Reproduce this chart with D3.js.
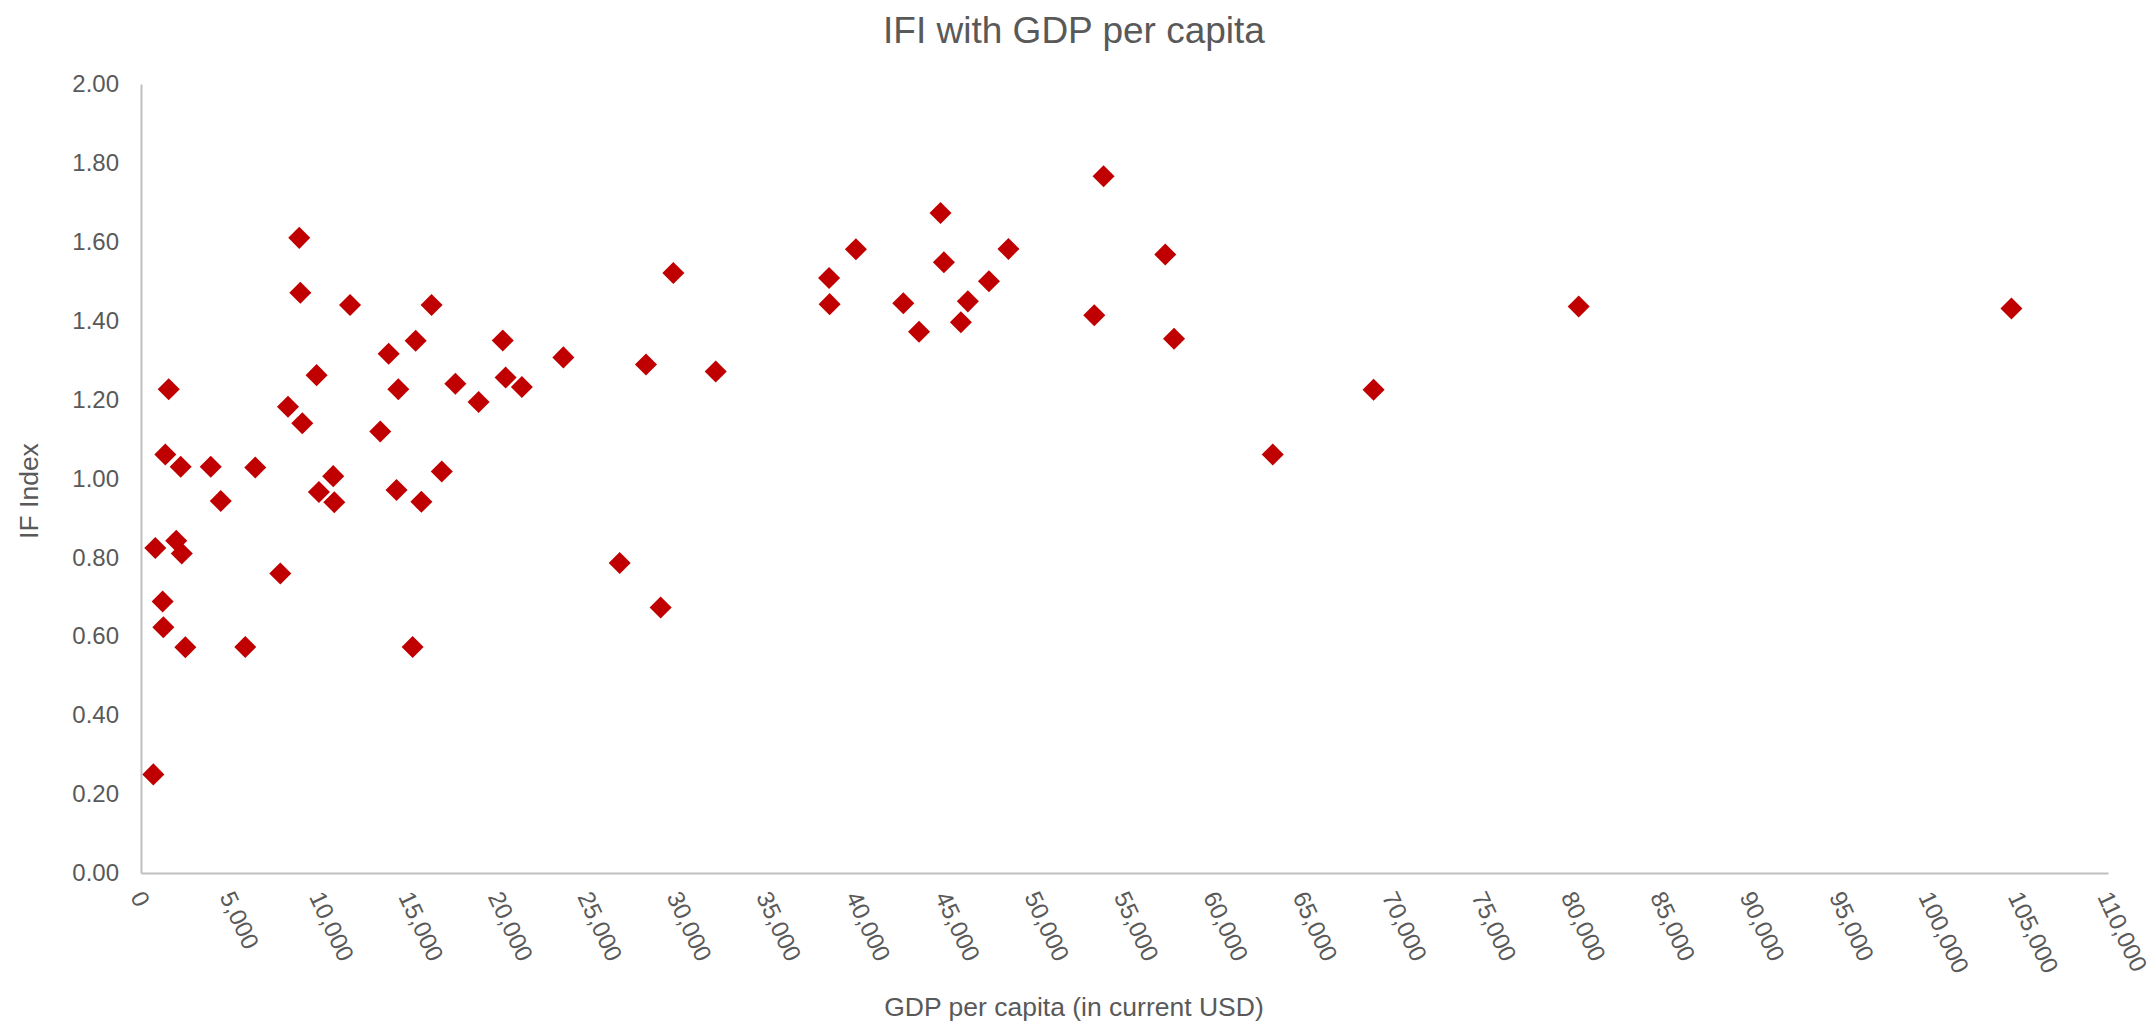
<!DOCTYPE html>
<html>
<head>
<meta charset="utf-8">
<script src="https://cdn.jsdelivr.net/npm/d3@7"></script>
<style>
  html, body { margin: 0; padding: 0; background: #ffffff; }
  svg { display: block; font-family: "Liberation Sans", Arial, sans-serif; }
</style>
</head>
<body>
<svg id="chart" width="2152" height="1021"></svg>
<script>
// ---- Data ----
const chartTitle = "IFI with GDP per capita";
const xAxisTitle = "GDP per capita (in current USD)";
const yAxisTitle = "IF Index";

const gdpPerCapita = [
  8850, 8910, 11690, 16250, 15360, 13850, 20230, 23620, 9820, 1550,
  14390, 17580, 20390, 21300, 18880, 8220, 9020, 13380, 1360, 2220,
  3900, 6390, 10750, 9950, 10810, 4460, 16820, 14290, 15680, 800,
  1970, 2280, 7790, 1210, 1250, 2480, 5830, 15190, 690,
  44710, 39980, 48510, 44900, 38480, 47420, 38510, 42630, 46240, 45850,
  43510, 29770, 28240, 32140, 26770, 29060,
  53830, 57280, 53310, 57770, 68930, 80400, 104600, 63290
];
const ifIndex = [
  1.610, 1.471, 1.440, 1.440, 1.349, 1.316, 1.350, 1.307, 1.262, 1.226,
  1.226, 1.240, 1.256, 1.232, 1.194, 1.182, 1.140, 1.119, 1.061, 1.030,
  1.030, 1.028, 1.006, 0.966, 0.940, 0.943, 1.018, 0.971, 0.941, 0.824,
  0.842, 0.810, 0.759, 0.688, 0.623, 0.572, 0.573, 0.573, 0.250,
  1.673, 1.581, 1.582, 1.548, 1.508, 1.500, 1.442, 1.444, 1.449, 1.396,
  1.372, 1.521, 1.289, 1.271, 0.786, 0.673,
  1.766, 1.568, 1.414, 1.354, 1.225, 1.436, 1.431, 1.061
];
const xTicks = d3.range(0, 110001, 5000);
const yTicks = [0, 0.2, 0.4, 0.6, 0.8, 1.0, 1.2, 1.4, 1.6, 1.8, 2.0];

const points = gdpPerCapita.map((g, i) => ({ x: g, y: ifIndex[i] }));

// ---- Layout ----
const svg = d3.select("#chart");
const plotLeft = 141, plotRight = 2108, plotTop = 84, plotBottom = 873;
const textColor = "#595959";
const axisColor = "#BFBFBF";
const markerColor = "#C00000";

const x = d3.scaleLinear().domain([0, 110000]).range([plotLeft, plotRight]);
const y = d3.scaleLinear().domain([0, 2]).range([plotBottom, plotTop]);

// Title
svg.append("text")
  .attr("x", 1074).attr("y", 43)
  .attr("text-anchor", "middle")
  .attr("font-size", 37)
  .attr("fill", textColor)
  .text(chartTitle);

// Y axis
const yAxis = d3.axisLeft(y).tickValues(yTicks).tickFormat(d3.format(".2f")).tickSize(0).tickPadding(22);
const gy = svg.append("g").attr("transform", `translate(${plotLeft},0)`).call(yAxis);
gy.select(".domain").attr("stroke", axisColor).attr("stroke-width", 2);
gy.selectAll("text").attr("font-size", 24).attr("fill", textColor)
  .attr("font-family", "Liberation Sans, Arial, sans-serif");

// X axis
const xAxis = d3.axisBottom(x).tickValues(xTicks).tickFormat(d3.format(",")).tickSize(0);
const gx = svg.append("g").attr("transform", `translate(0,${plotBottom})`).call(xAxis);
gx.select(".domain").attr("stroke", axisColor).attr("stroke-width", 2);
gx.selectAll(".tick text")
  .attr("font-size", 24).attr("fill", textColor)
  .attr("font-family", "Liberation Sans, Arial, sans-serif")
  .attr("text-anchor", "start")
  .attr("x", 0).attr("y", 0).attr("dy", "0.35em")
  .attr("transform", "translate(-4,20) rotate(65)");

// Axis titles
svg.append("text")
  .attr("x", 1074).attr("y", 1016)
  .attr("text-anchor", "middle")
  .attr("font-size", 26.5)
  .attr("fill", textColor)
  .text(xAxisTitle);

svg.append("text")
  .attr("transform", "translate(38,491) rotate(-90)")
  .attr("text-anchor", "middle")
  .attr("font-size", 26.5)
  .attr("fill", textColor)
  .text(yAxisTitle);

// Points (diamonds)
const diamond = d3.symbol().type(d3.symbolSquare).size(243);
svg.append("g").selectAll("path")
  .data(points)
  .join("path")
  .attr("d", diamond)
  .attr("transform", d => `translate(${x(d.x)},${y(d.y)}) rotate(45)`)
  .attr("fill", markerColor);
</script>
</body>
</html>
